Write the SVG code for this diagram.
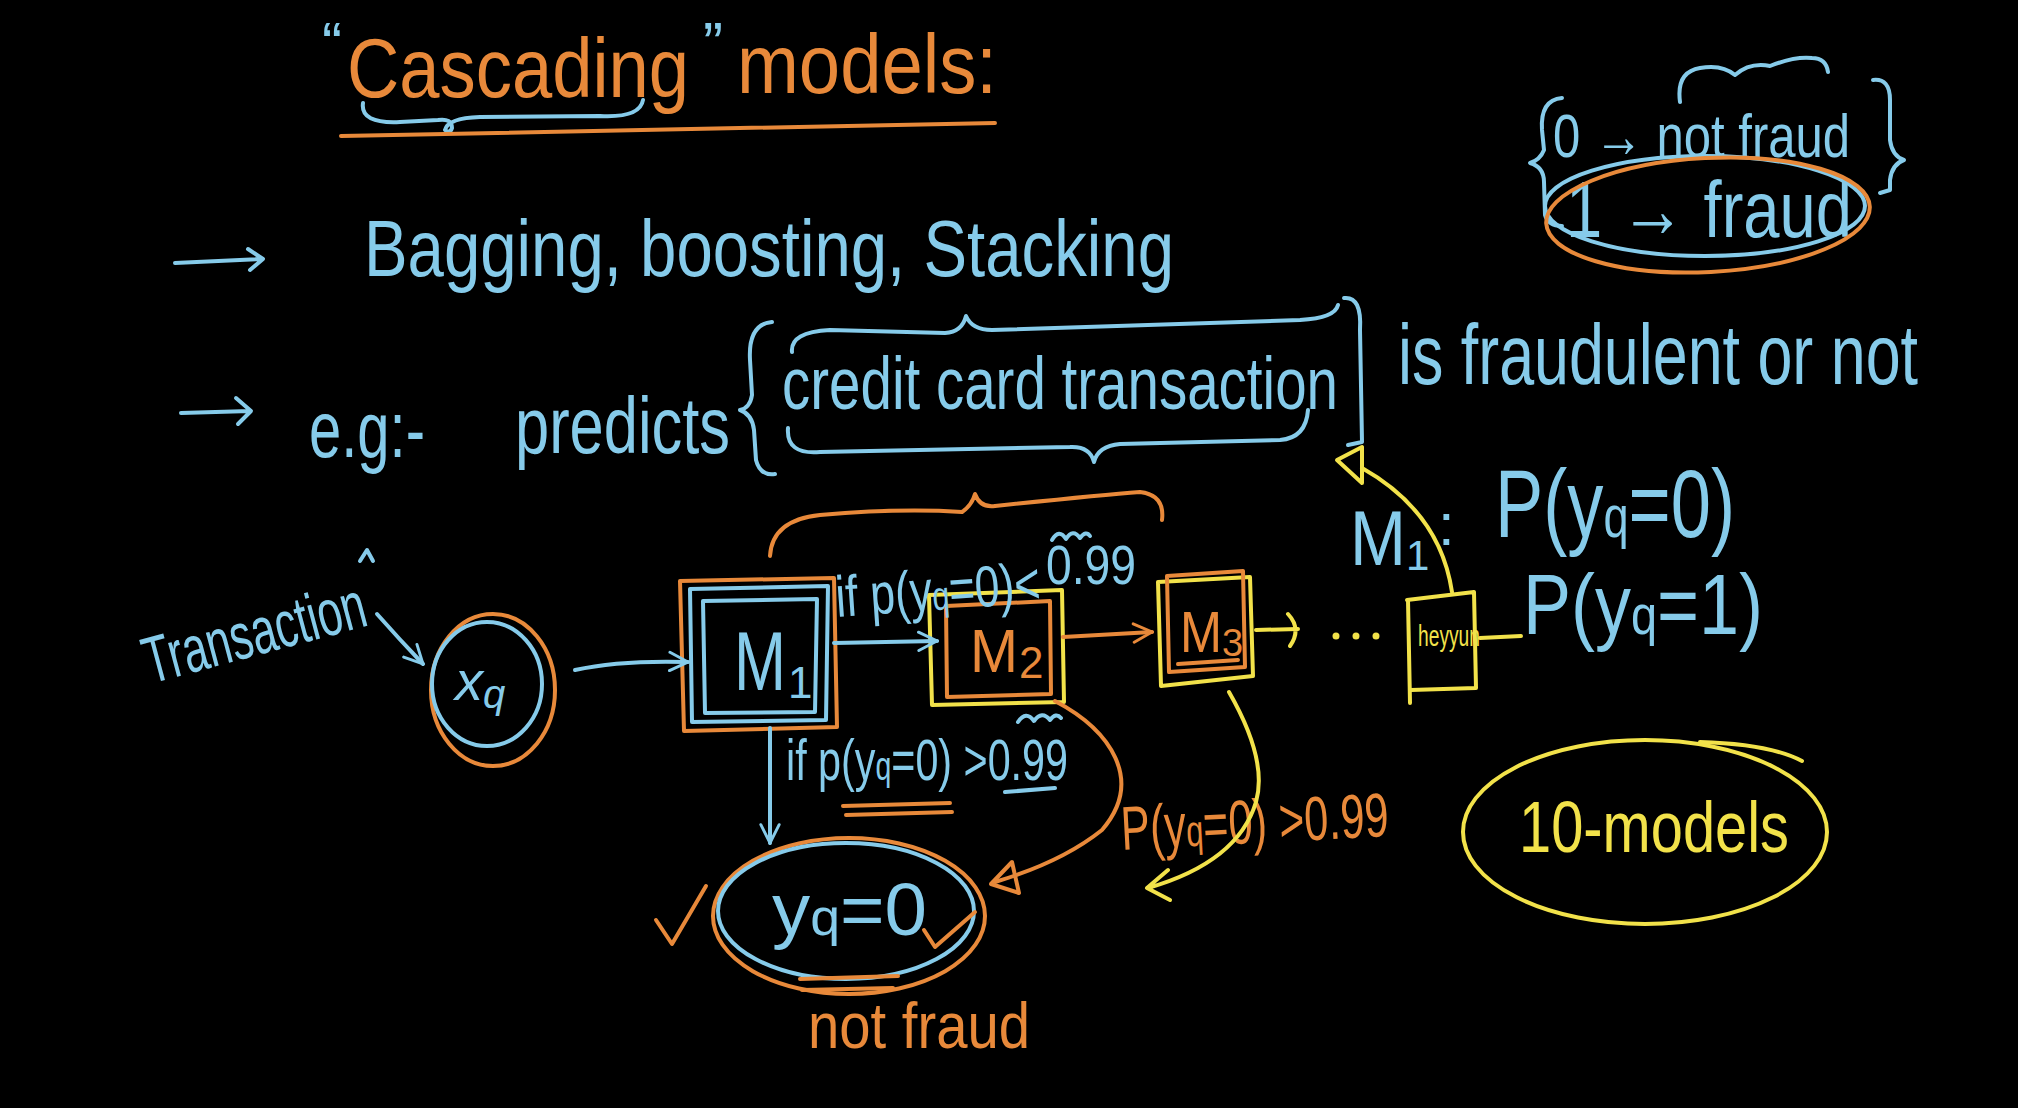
<svg xmlns="http://www.w3.org/2000/svg" width="2018" height="1108" viewBox="0 0 2018 1108">
<defs>
<style>
text{font-family:"Liberation Sans","DejaVu Sans",sans-serif}
.b{fill:#86cbea}.o{fill:#e8893a}.y{fill:#f2e24a}
.sb,.so,.sy{fill:none;stroke-width:4;stroke-linecap:round;stroke-linejoin:round}
.sb{stroke:#86cbea}.so{stroke:#e8893a}.sy{stroke:#f2e24a}
</style>
<marker id="hb" viewBox="0 0 12 12" refX="11" refY="6" markerWidth="22" markerHeight="22" markerUnits="userSpaceOnUse" orient="auto"><path d="M1,1 L11,6 L1,11" fill="none" stroke="#86cbea" stroke-width="1.6" stroke-linecap="round"/></marker>
<marker id="ho" viewBox="0 0 12 12" refX="11" refY="6" markerWidth="22" markerHeight="22" markerUnits="userSpaceOnUse" orient="auto"><path d="M1,1 L11,6 L1,11" fill="none" stroke="#e8893a" stroke-width="1.6" stroke-linecap="round"/></marker>
</defs>
<rect width="2018" height="1108" fill="#000"/>

<g id="title">
<text class="b" font-size="60" x="322" y="64">“</text>
<text class="o" font-size="84" x="347" y="97" textLength="342" lengthAdjust="spacingAndGlyphs">Cascading</text>
<text class="b" font-size="60" x="703" y="64">”</text>
<text class="o" font-size="84" x="737" y="93" textLength="260" lengthAdjust="spacingAndGlyphs">models:</text>
<path class="sb" d="M363,103 Q360,124 400,122 L438,120 Q452,118 452,128 Q450,134 445,130 Q448,118 480,117 L600,116 Q640,118 643,100"/>
<path class="so" d="M341,136 L995,123"/>
</g>

<g id="bullets">
<path class="sb" d="M175,263 L262,259 M248,249 L263,259 L250,270"/>
<text class="b" font-size="80" x="364" y="276" textLength="810" lengthAdjust="spacingAndGlyphs">Bagging, boosting, Stacking</text>
<path class="sb" d="M181,413 L250,411 M236,398 L251,411 L238,424"/>
<text class="b" font-size="80" x="309" y="457" textLength="116" lengthAdjust="spacingAndGlyphs">e.g:-</text>
<text class="b" font-size="80" x="515" y="453" textLength="215" lengthAdjust="spacingAndGlyphs">predicts</text>
<path class="sb" d="M772,322 Q748,324 750,360 L752,395 Q750,408 740,410 Q752,414 754,430 L756,460 Q760,476 775,474"/>
<text class="b" font-size="74" x="782" y="409" textLength="556" lengthAdjust="spacingAndGlyphs">credit card transaction</text>
<path class="sb" d="M792,352 Q790,332 830,330 L945,333 Q962,332 966,316 Q972,330 992,330 L1300,320 Q1335,318 1338,305"/>
<path class="sb" d="M788,428 Q786,455 820,452 L1070,447 Q1090,446 1094,462 Q1098,446 1120,444 L1280,440 Q1306,438 1308,410"/>
<path class="sb" d="M1344,298 Q1362,296 1360,330 L1362,442 L1348,445"/>
<text class="b" font-size="86" x="1398" y="384" textLength="520" lengthAdjust="spacingAndGlyphs">is fraudulent or not</text>
</g>

<g id="legend">
<path class="sb" d="M1562,98 Q1540,100 1542,130 L1544,150 Q1540,160 1530,163 Q1544,167 1544,182 L1545,215 Q1548,226 1562,226"/>
<text class="b" font-size="62" x="1553" y="157" textLength="297" lengthAdjust="spacingAndGlyphs">0 → not fraud</text>
<path class="sb" d="M1680,102 Q1676,72 1700,68 Q1722,64 1735,75 Q1750,62 1770,66 Q1795,56 1812,58 Q1826,58 1828,72"/>
<path class="sb" d="M1873,80 Q1890,78 1890,100 L1890,140 Q1892,156 1904,160 Q1892,164 1890,180 L1890,190 L1880,193"/>
<text class="b" font-size="80" x="1566" y="237" textLength="286" lengthAdjust="spacingAndGlyphs">1 → fraud</text>
<ellipse class="sb" cx="1705" cy="206" rx="160" ry="50"/>
<ellipse class="so" cx="1708" cy="215" rx="162" ry="57" transform="rotate(-3 1708 215)"/>
</g>

<g id="probs">
<text class="b" font-size="78" x="1350" y="565" textLength="56" lengthAdjust="spacingAndGlyphs">M</text>
<text class="b" font-size="42" x="1406" y="570">1</text>
<text class="b" font-size="60" x="1438" y="545">:</text>
<text class="b" font-size="96" x="1495" y="537" textLength="240" lengthAdjust="spacingAndGlyphs">P(y<tspan font-size="60">q</tspan>=0)</text>
<text class="b" font-size="86" x="1523" y="634" textLength="240" lengthAdjust="spacingAndGlyphs">P(y<tspan font-size="56">q</tspan>=1)</text>
</g>

<g id="transaction">
<text class="b" font-size="66" x="150" y="684" textLength="228" lengthAdjust="spacingAndGlyphs" transform="rotate(-15 150 684)">Transaction</text>
<path class="sb" d="M360,561 L367,550 L373,561"/>
</g>

<g id="xq">
<ellipse class="so" cx="493" cy="690" rx="62" ry="76"/>
<ellipse class="sb" cx="487" cy="684" rx="55" ry="62"/>
<text class="b" font-size="56" x="455" y="700" font-style="italic">x<tspan font-size="40" dy="8">q</tspan></text>
</g>

<g id="m1">
<path class="so" d="M680,581 L834,578 L837,727 L684,731 Z"/>
<path class="sb" d="M690,589 L828,586 L826,720 L692,722 Z"/>
<path class="sb" d="M703,601 L817,599 L815,712 L705,713 Z"/>
<text class="b" font-size="84" x="734" y="690" textLength="52" lengthAdjust="spacingAndGlyphs">M</text>
<text class="b" font-size="44" x="788" y="698">1</text>
</g>

<g id="m2">
<path class="sy" d="M929,595 L1062,590 L1064,702 L932,705 Z"/>
<path class="so" d="M946,606 L1050,601 L1051,694 L947,697 Z"/>
<text class="o" font-size="62" x="970" y="672" textLength="48" lengthAdjust="spacingAndGlyphs">M</text>
<text class="o" font-size="44" x="1019" y="678">2</text>
</g>

<g id="m3">
<path class="sy" d="M1158,582 L1250,577 L1253,676 L1161,686 Z"/>
<path class="so" d="M1167,576 L1243,571 L1245,667 L1169,672 Z"/>
<text class="o" font-size="58" x="1180" y="652" textLength="42" lengthAdjust="spacingAndGlyphs">M</text>
<text class="o" font-size="38" x="1222" y="656">3</text>
<path class="so" d="M1178,664 L1238,660"/>
</g>

<g id="mk">
<path class="sy" d="M1407,600 L1474,592 L1476,688 L1411,690 M1408,600 L1410,703"/>
<text class="y" font-size="30" x="1418" y="646" textLength="62" lengthAdjust="spacingAndGlyphs">heyyun</text>
<circle class="y" cx="1336" cy="636" r="3.5"/>
<circle class="y" cx="1356" cy="636" r="3.5"/>
<circle class="y" cx="1376" cy="636" r="3.5"/>
</g>

<g id="yq0">
<ellipse class="so" cx="849" cy="916" rx="136" ry="78"/>
<ellipse class="sb" cx="846" cy="911" rx="128" ry="68"/>
<text class="b" font-size="74" x="772" y="935" textLength="155" lengthAdjust="spacingAndGlyphs">y<tspan font-size="52">q</tspan>=0</text>
<path class="so" d="M656,920 L672,944 L706,886"/>
<path class="so" d="M924,930 L935,947 L975,912"/>
<path class="so" d="M800,979 L898,976 M802,990 L893,988"/>
<text class="o" font-size="64" x="808" y="1048" textLength="222" lengthAdjust="spacingAndGlyphs">not fraud</text>
</g>

<g id="models10">
<ellipse class="sy" cx="1645" cy="832" rx="182" ry="92"/>
<path class="sy" d="M1700,742 Q1770,744 1802,761"/>
<text class="y" font-size="72" x="1519" y="852" textLength="270" lengthAdjust="spacingAndGlyphs">10-models</text>
</g>

<g id="labels">
<text class="b" font-size="58" x="837" y="617" textLength="205" lengthAdjust="spacingAndGlyphs" transform="rotate(-4 837 617)">if p(y<tspan font-size="40">q</tspan>=0)&lt;</text>
<text class="b" font-size="56" x="1046" y="584" textLength="90" lengthAdjust="spacingAndGlyphs">0.99</text>
<path class="sb" d="M1052,540 Q1059,528 1066,539 Q1073,528 1080,538 Q1086,530 1090,536"/>
<path class="so" d="M770,556 Q772,520 820,515 Q900,508 962,512 Q972,505 975,494 Q980,508 995,506 Q1100,495 1140,492 Q1165,495 1162,520"/>
<text class="b" font-size="58" x="786" y="780" textLength="282" lengthAdjust="spacingAndGlyphs">if p(y<tspan font-size="40">q</tspan>=0) &gt;0.99</text>
<path class="sb" d="M1018,722 Q1026,710 1034,721 Q1042,710 1050,720 Q1056,712 1061,718"/>
<path class="sb" d="M1005,792 L1055,788"/>
<path class="so" d="M843,806 L950,803 M846,815 L952,812"/>
<text class="o" font-size="62" x="1122" y="850" textLength="268" lengthAdjust="spacingAndGlyphs" transform="rotate(-3 1122 850)">P(y<tspan font-size="44">q</tspan>=0) &gt;0.99</text>
</g>

<g id="connectors">
<path class="sb" d="M377,614 Q400,640 423,664" marker-end="url(#hb)"/>
<path class="sb" d="M575,670 Q620,660 688,662" marker-end="url(#hb)"/>
<path class="sb" d="M834,643 L937,641" marker-end="url(#hb)"/>
<path class="so" d="M1063,637 L1152,632" marker-end="url(#ho)"/>
<path class="sy" d="M1256,630 L1298,629 M1288,614 Q1302,629 1290,646"/>
<path class="sb" d="M770,728 L770,843" marker-end="url(#hb)"/>
<path class="so" d="M1055,701 C1110,730 1145,780 1102,830 Q1062,862 995,882"/>
<path class="so" d="M991,884 L1012,862 L1019,893 Z"/>
<path class="sy" d="M1229,692 Q1268,760 1256,802 Q1238,862 1148,888 M1168,870 L1147,888 L1170,900"/>
<path class="sy" d="M1452,592 Q1440,512 1362,468"/>
<path class="sy" d="M1337,460 L1362,447 L1362,483 Z"/>
<path class="sy" d="M1480,638 L1521,636"/>
</g>
</svg>
